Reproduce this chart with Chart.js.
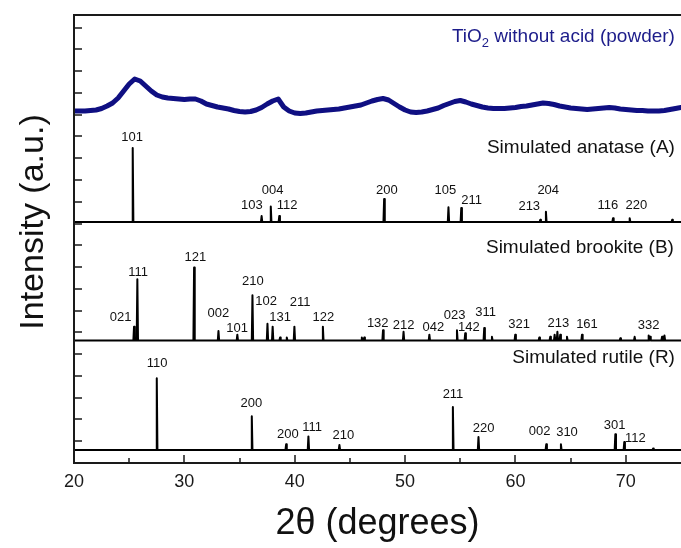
<!DOCTYPE html>
<html>
<head>
<meta charset="utf-8">
<script src="https://cdn.jsdelivr.net/npm/chart.js@4.4.1/dist/chart.umd.min.js"></script>
<style>
  html, body { margin: 0; padding: 0; background: #fff; }
  #wrap { width: 681px; height: 548px; position: relative; }
</style>
</head>
<body>
<div id="wrap"><canvas id="xrd"></canvas></div>
<script>
// measured powder pattern (2theta in degrees, intensity in a.u.)
const powderTwoTheta = [
  20, 20.5, 21, 21.5, 22, 22.5, 23, 23.5, 24, 24.5, 25, 25.5, 26, 26.5, 27, 27.5, 28, 28.5, 29, 29.5,
  30, 30.5, 31, 31.5, 32, 32.5, 33, 33.5, 34, 34.5, 35, 35.5, 36, 36.5, 37, 37.5, 38, 38.5, 39, 39.5,
  40, 40.5, 41, 41.5, 42, 42.5, 43, 43.5, 44, 44.5, 45, 45.5, 46, 46.5, 47, 47.5, 48, 48.5, 49, 49.5,
  50, 50.5, 51, 51.5, 52, 52.5, 53, 53.5, 54, 54.5, 55, 55.5, 56, 56.5, 57, 57.5, 58, 58.5, 59, 59.5,
  60, 60.5, 61, 61.5, 62, 62.5, 63, 63.5, 64, 64.5, 65, 65.5, 66, 66.5, 67, 67.5, 68, 68.5, 69, 69.5,
  70, 70.5, 71, 71.5, 72, 72.5, 73, 73.5, 74, 74.5, 75
];
const powderIntensity = [
  352, 352, 352, 352.5, 353, 354.5, 357, 360, 365, 372, 379, 384, 382, 377, 372, 368, 366, 365, 364.5, 364,
  363.5, 364, 364, 362, 359, 357.5, 356, 355, 354, 352.5, 351.5, 351, 351.5, 353, 355.5, 359, 362, 364, 356, 352,
  350, 349.5, 350, 351, 352, 352.5, 353, 353.5, 354, 355, 356, 357, 358, 360, 362, 363.5, 364.5, 363, 359.5, 356,
  353, 351, 350.5, 351, 352, 353.5, 355, 357.5, 359.5, 361.5, 362.5, 361, 359, 357.5, 356, 355, 354.5, 354.5, 354.5, 355,
  355.5, 356.5, 357, 358, 359, 360, 359.5, 358.5, 357, 356, 355, 354.5, 354, 353.5, 354, 354.5, 355, 355.5, 355, 354,
  353.5, 353, 352.5, 352.5, 352, 352, 352, 352.5, 353.5, 354.5, 355.5
];

// simulated anatase: peak positions (deg) and relative intensity (%)
const anatasePos = [25.32, 37.0, 37.83, 38.6, 48.1, 53.93, 55.09, 62.25, 62.76, 68.84, 70.35, 74.2];
const anataseInt = [100, 8, 21, 8, 31, 20, 19, 3, 14, 5, 5, 3];
const anataseHkl = ["101", "103", "004", "112", "200", "105", "211", "213", "204", "116", "220"];
const anataseHklX = [25.26, 36.11, 38.0, 39.31, 48.35, 53.64, 56.02, 61.25, 62.97, 68.37, 70.95];
const anataseHklY = [326, 258, 273, 258, 273, 273, 263, 257, 273, 258, 258];

// simulated brookite
const brookitePos = [25.44, 25.74, 30.88, 33.09, 34.8, 36.17, 37.53, 38.0, 38.67, 39.28, 39.97, 42.55,
  46.08, 46.3, 48.0, 49.86, 52.2, 54.7, 55.45, 57.17, 57.87, 59.98, 62.16, 63.15, 63.55, 63.8, 64.06,
  64.67, 66.03, 69.5, 70.8, 72.07, 72.2, 73.28, 73.5];
const brookiteInt = [19, 84, 100, 13, 8, 62, 23, 19, 4, 4, 19, 19,
  4, 4, 14, 12, 8, 14, 10, 17, 5, 8, 4, 5, 8, 12, 8,
  5, 8, 3, 5, 7, 5, 5, 7];
const brookiteHkl = ["021", "111", "121", "210", "002", "101", "102", "211", "131", "122", "132", "212",
  "042", "023", "142", "311", "321", "213", "161", "332"];
const brookiteHklX = [24.22, 25.8, 31.0, 36.21, 33.08, 34.78, 37.41, 40.49, 38.68, 42.6, 47.52, 49.86,
  52.57, 54.48, 55.78, 57.29, 60.34, 63.88, 66.48, 72.07];
const brookiteHklY = [146, 191, 206, 182, 150, 135, 162, 161, 146, 146, 140, 138,
  136, 148, 136, 151, 139, 140, 139, 138];

// simulated rutile
const rutilePos = [27.5, 36.11, 39.22, 41.24, 44.05, 54.33, 56.65, 62.79, 64.12, 69.05, 69.86, 72.47];
const rutileInt = [100, 47, 8, 19, 7, 60, 18, 8, 8, 22, 11, 2];
const rutileHkl = ["110", "200", "200", "111", "210", "211", "220", "002", "310", "301", "112"];
const rutileHklX = [27.54, 36.07, 39.37, 41.58, 44.41, 54.34, 57.11, 62.18, 64.67, 68.98, 70.86];
const rutileHklY = [100, 60, 29, 36, 28, 69, 35, 32, 31, 38, 25];

// vertical stacking of the simulated patterns (a.u.)
const anataseOffset = 241, anataseScale = 0.74;
const brookiteOffset = 122.5, brookiteScale = 0.73;
const rutileOffset = 13, rutileScale = 0.717;

const X_MIN = 20, X_MAX = 75, Y_MAX = 448, Y_TICK = 21.77;
const FONT = '"Liberation Sans", Arial, sans-serif';

function stickPattern(pos, inten, offset, scale) {
  const w = 0.06;
  const pts = [{ x: X_MIN, y: offset }];
  pos.forEach((p, i) => {
    pts.push({ x: p - w, y: offset });
    pts.push({ x: p, y: offset + inten[i] * scale });
    pts.push({ x: p + w, y: offset });
  });
  pts.push({ x: X_MAX, y: offset });
  return pts;
}

const decor = {
  id: 'decor',
  afterDatasetsDraw(chart) {
    const { ctx, chartArea: a, scales: { x, y } } = chart;
    ctx.save();
    ctx.strokeStyle = '#1a1a1a';
    ctx.lineWidth = 2;
    // frame: left, top, bottom (right edge falls at the canvas edge)
    ctx.beginPath();
    ctx.moveTo(a.right + 2, a.top);
    ctx.lineTo(a.left, a.top);
    ctx.lineTo(a.left, a.bottom);
    ctx.lineTo(a.right + 2, a.bottom);
    ctx.stroke();

    // inward tick marks
    ctx.beginPath();
    for (let v = 25; v < X_MAX; v += 5) {
      const px = Math.round(x.getPixelForValue(v));
      const len = v % 10 === 0 ? 8 : 5;
      ctx.moveTo(px, a.bottom);
      ctx.lineTo(px, a.bottom - len);
    }
    for (let k = 1; k * Y_TICK < Y_MAX - 5; k++) {
      const py = Math.round(y.getPixelForValue(k * Y_TICK));
      ctx.moveTo(a.left, py);
      ctx.lineTo(a.left + 8, py);
    }
    ctx.lineWidth = 1.5;
    ctx.stroke();

    // reflection indices
    ctx.fillStyle = '#111';
    ctx.font = '13px ' + FONT;
    ctx.textAlign = 'center';
    ctx.textBaseline = 'middle';
    const sets = [
      [anataseHkl, anataseHklX, anataseHklY],
      [brookiteHkl, brookiteHklX, brookiteHklY],
      [rutileHkl, rutileHklX, rutileHklY]
    ];
    sets.forEach(([t, lx, ly]) => {
      t.forEach((s, i) => ctx.fillText(s, x.getPixelForValue(lx[i]), y.getPixelForValue(ly[i])));
    });

    // pattern names
    ctx.font = '19px ' + FONT;
    ctx.textAlign = 'right';
    const r = x.getPixelForValue(74.45);
    ctx.fillText('Simulated anatase (A)', r, y.getPixelForValue(315));
    ctx.fillText('Simulated brookite (B)', r - 1, y.getPixelForValue(215));
    ctx.fillText('Simulated rutile (R)', r, y.getPixelForValue(105));

    // TiO2 label with subscript
    ctx.fillStyle = '#1c1c8a';
    const ty = y.getPixelForValue(426);
    const tail = ' without acid (powder)';
    ctx.fillText(tail, r, ty);
    const w1 = ctx.measureText(tail).width;
    ctx.font = '13px ' + FONT;
    ctx.fillText('2', r - w1, ty + 6);
    const w2 = ctx.measureText('2').width;
    ctx.font = '19px ' + FONT;
    ctx.fillText('TiO', r - w1 - w2, ty);

    // y axis title
    ctx.fillStyle = '#111';
    ctx.font = '34px ' + FONT;
    ctx.textAlign = 'center';
    ctx.translate(34, 222);
    ctx.rotate(-Math.PI / 2);
    ctx.fillText('Intensity (a.u.)', 0, 0);
    ctx.restore();
  }
};

new Chart(document.getElementById('xrd'), {
  type: 'line',
  data: {
    datasets: [
      {
        label: 'TiO2 without acid (powder)',
        data: powderTwoTheta.map((t, i) => ({ x: t, y: powderIntensity[i] })),
        borderColor: '#0f0f82',
        borderWidth: 5
      },
      {
        label: 'Simulated anatase (A)',
        data: stickPattern(anatasePos, anataseInt, anataseOffset, anataseScale),
        borderColor: '#000',
        borderWidth: 2
      },
      {
        label: 'Simulated brookite (B)',
        data: stickPattern(brookitePos, brookiteInt, brookiteOffset, brookiteScale),
        borderColor: '#000',
        borderWidth: 2
      },
      {
        label: 'Simulated rutile (R)',
        data: stickPattern(rutilePos, rutileInt, rutileOffset, rutileScale),
        borderColor: '#000',
        borderWidth: 2
      }
    ]
  },
  options: {
    responsive: true,
    maintainAspectRatio: false,
    animation: false,
    elements: { point: { radius: 0 }, line: { tension: 0, borderJoinStyle: 'round', borderCapStyle: 'round' } },
    layout: { padding: { top: 15, right: -1, left: 0, bottom: 0 } },
    plugins: { legend: { display: false }, tooltip: { enabled: false } },
    scales: {
      x: {
        type: 'linear',
        min: X_MIN,
        max: X_MAX,
        grid: { display: false, drawTicks: false },
        border: { display: false },
        ticks: {
          stepSize: 5,
          autoSkip: false,
          maxRotation: 0,
          padding: 8,
          color: '#1a1a1a',
          font: { family: FONT, size: 18 },
          callback: (v) => (v % 10 === 0 && v < X_MAX ? String(v) : '')
        },
        title: {
          display: true,
          text: '2θ (degrees)',
          color: '#111',
          font: { family: FONT, size: 36 },
          padding: { top: 0, bottom: 2 }
        },
        afterFit: (s) => { s.height = 85; s.paddingLeft = 0; s.paddingRight = 0; }
      },
      y: {
        min: 0,
        max: Y_MAX,
        grid: { display: false, drawTicks: false },
        border: { display: false },
        ticks: { display: false },
        afterFit: (s) => { s.width = 74; s.paddingTop = 0; s.paddingBottom = 0; }
      }
    }
  },
  plugins: [decor]
});
</script>
</body>
</html>
